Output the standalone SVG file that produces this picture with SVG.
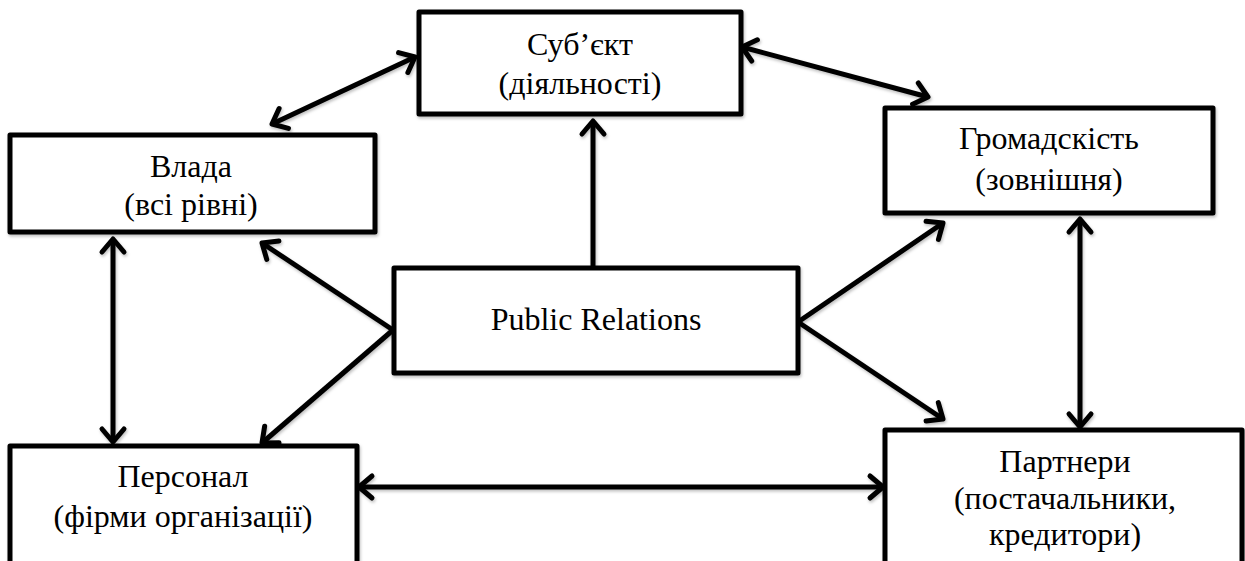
<svg xmlns="http://www.w3.org/2000/svg" width="1245" height="561" viewBox="0 0 1245 561">
<style>
.box{fill:#fff;stroke:#000;stroke-width:5;stroke-linejoin:round}
.lbl{font-family:'Liberation Serif','DejaVu Serif',serif;font-size:32px;fill:#000;text-anchor:middle}
.con{stroke:#000;stroke-width:5;fill:none}
</style>
<defs>
<filter id="sh" x="-10%" y="-10%" width="120%" height="130%">
<feDropShadow dx="1" dy="2" stdDeviation="1.5" flood-color="#000" flood-opacity="0.25"/>
</filter>
<marker id="ah" markerUnits="userSpaceOnUse" viewBox="-20 -16 26 32" refX="0" refY="0" markerWidth="26" markerHeight="32" orient="auto-start-reverse">
<path d="M-13,-11 L0,0 L-13,11" fill="none" stroke="#000" stroke-width="5" stroke-linecap="round" stroke-linejoin="round"/>
</marker>
</defs>
<rect width="1245" height="561" fill="#fff"/>
<g id="connectors" filter="url(#sh)">
<line class="con" x1="272" y1="124" x2="415" y2="57" marker-start="url(#ah)" marker-end="url(#ah)"/>
<line class="con" x1="742" y1="47" x2="928" y2="97" marker-start="url(#ah)" marker-end="url(#ah)"/>
<line class="con" x1="593" y1="268" x2="593" y2="121" marker-end="url(#ah)"/>
<line class="con" x1="393" y1="330" x2="262" y2="243" marker-end="url(#ah)"/>
<line class="con" x1="393" y1="330" x2="262" y2="443" marker-end="url(#ah)"/>
<line class="con" x1="113" y1="239" x2="113" y2="442" marker-start="url(#ah)" marker-end="url(#ah)"/>
<line class="con" x1="798" y1="322" x2="943" y2="223" marker-end="url(#ah)"/>
<line class="con" x1="798" y1="322" x2="943" y2="419" marker-end="url(#ah)"/>
<line class="con" x1="1080" y1="219" x2="1080" y2="427" marker-start="url(#ah)" marker-end="url(#ah)"/>
<line class="con" x1="359" y1="487" x2="883" y2="487" marker-start="url(#ah)" marker-end="url(#ah)"/>
</g>
<g id="subject">
<rect class="box" x="419" y="12" width="322" height="102" filter="url(#sh)"/>
<text class="lbl" font-family="Liberation Serif, serif" x="580" y="55">Суб’єкт</text>
<text class="lbl" font-family="Liberation Serif, serif" x="580" y="94">(діяльності)</text>
</g>
<g id="vlada">
<rect class="box" x="10" y="135" width="365" height="97" filter="url(#sh)"/>
<text class="lbl" font-family="Liberation Serif, serif" x="191" y="177">Влада</text>
<text class="lbl" font-family="Liberation Serif, serif" x="191" y="215">(всі рівні)</text>
</g>
<g id="hromadskist">
<rect class="box" x="885" y="108" width="328" height="105" filter="url(#sh)"/>
<text class="lbl" font-family="Liberation Serif, serif" x="1049" y="149">Громадскість</text>
<text class="lbl" font-family="Liberation Serif, serif" x="1049" y="190">(зовнішня)</text>
</g>
<g id="pr">
<rect class="box" x="394" y="268" width="404" height="105" filter="url(#sh)"/>
<text class="lbl" font-family="Liberation Serif, serif" x="596" y="330">Public Relations</text>
</g>
<g id="personal">
<rect class="box" x="10" y="446" width="347" height="130" filter="url(#sh)"/>
<text class="lbl" font-family="Liberation Serif, serif" x="183" y="487">Персонал</text>
<text class="lbl" font-family="Liberation Serif, serif" x="183" y="527">(фірми організації)</text>
</g>
<g id="partnery">
<rect class="box" x="885" y="430" width="357" height="146" filter="url(#sh)"/>
<text class="lbl" font-family="Liberation Serif, serif" x="1065" y="472">Партнери</text>
<text class="lbl" font-family="Liberation Serif, serif" x="1065" y="509">(постачальники,</text>
<text class="lbl" font-family="Liberation Serif, serif" x="1065" y="545">кредитори)</text>
</g>
</svg>
